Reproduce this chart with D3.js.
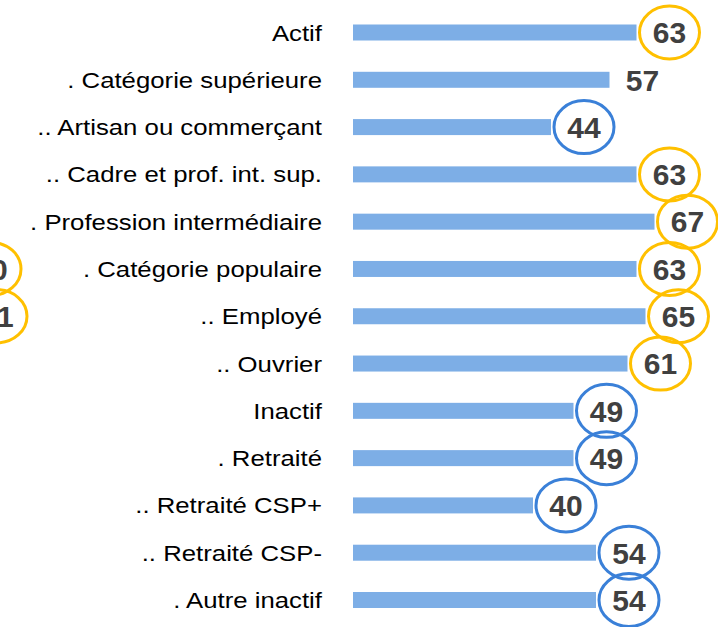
<!DOCTYPE html>
<meta charset="utf-8">
<script src="https://d3js.org/d3.v7.min.js"></script>
<style>
  body { margin: 0; background: #fff; }
</style>
<div id="chart"></div>
<script>

// data
var categories = [
  "Actif",
  ". Catégorie supérieure",
  ".. Artisan ou commerçant",
  ".. Cadre et prof. int. sup.",
  ". Profession intermédiaire",
  ". Catégorie populaire",
  ".. Employé",
  ".. Ouvrier",
  "Inactif",
  ". Retraité",
  ".. Retraité CSP+",
  ".. Retraité CSP-",
  ". Autre inactif"
];
var values = [63, 57, 44, 63, 67, 63, 65, 61, 49, 49, 40, 54, 54];
// circle around the value: "high", "low" or none
var marks = ["high", "", "low", "high", "high", "high", "high", "high", "low", "low", "low", "low", "low"];

// cut-off labels of the neighbouring panel on the left edge
var strayRows = [". Catégorie populaire", ".. Employé"];
var strayText = ["60", "61"];

var width = 718, height = 627;
var font = "'Liberation Sans', Arial, sans-serif";

var svg = d3.select("#chart").append("svg")
  .attr("width", width)
  .attr("height", height);

var x = d3.scaleLinear().domain([0, 100]).range([353, 803]);
var y = d3.scalePoint().domain(categories).range([32.5, 600]);

var barH = 16;
var circleColor = { high: "#FFC000", low: "#3A80D8" };

// labels (the source text is a bit wider than the font)
svg.selectAll(".label")
  .data(categories)
  .enter().append("text")
    .attr("class", "label")
    .attr("transform", function(d) { return "translate(322," + y(d) + ") scale(1.12,1)"; })
    .attr("dy", "0.35em")
    .attr("text-anchor", "end")
    .style("font-family", font)
    .style("font-size", "23px")
    .style("fill", "#000")
    .text(function(d) { return d; });

// bars
svg.selectAll(".bar")
  .data(values)
  .enter().append("rect")
    .attr("class", "bar")
    .attr("x", x(0))
    .attr("y", function(d, i) { return y(categories[i]) - barH / 2; })
    .attr("width", function(d) { return x(d) - x(0); })
    .attr("height", barH)
    .style("fill", "#7DAEE6");

// circles
svg.selectAll(".ring")
  .data(values.map(function(v, i) { return { v: v, c: categories[i], m: marks[i] }; })
              .filter(function(d) { return d.m; }))
  .enter().append("ellipse")
    .attr("class", "ring")
    .attr("cx", function(d) { return x(d.v) + 33; })
    .attr("cy", function(d) { return y(d.c); })
    .attr("rx", 30)
    .attr("ry", 26.5)
    .style("fill", "none")
    .style("stroke", function(d) { return circleColor[d.m]; })
    .style("stroke-width", 3);

// values
svg.selectAll(".val")
  .data(values)
  .enter().append("text")
    .attr("class", "val")
    .attr("x", function(d) { return x(d) + 33; })
    .attr("y", function(d, i) { return y(categories[i]); })
    .attr("dy", "0.36em")
    .attr("text-anchor", "middle")
    .style("font-family", font)
    .style("font-weight", "bold")
    .style("font-size", "30px")
    .style("fill", "#404040")
    .text(function(d) { return d; });

// stray circles cut at the left edge
var stray = svg.selectAll(".stray")
  .data(strayRows)
  .enter().append("g")
    .attr("class", "stray")
    .attr("transform", function(d, i) { return "translate(" + (i == 0 ? -9 : -3) + "," + y(d) + ")"; });

stray.append("ellipse")
  .attr("rx", 30)
  .attr("ry", 26.5)
  .style("fill", "none")
  .style("stroke", circleColor.high)
  .style("stroke-width", 3);

stray.append("text")
  .attr("dy", "0.36em")
  .attr("text-anchor", "middle")
  .style("font-family", font)
  .style("font-weight", "bold")
  .style("font-size", "30px")
  .style("fill", "#404040")
  .text(function(d, i) { return strayText[i]; });

</script>
